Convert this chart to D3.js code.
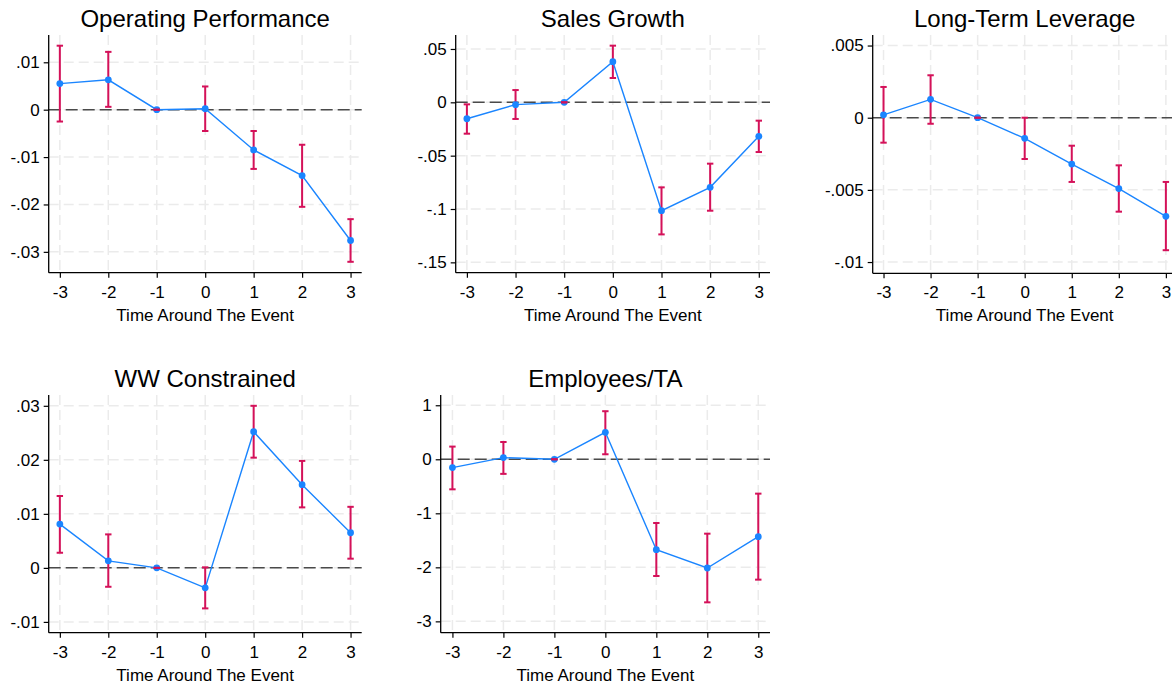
<!DOCTYPE html>
<html>
<head>
<meta charset="utf-8">
<script src="https://cdn.jsdelivr.net/npm/d3@7"></script>
<style>
  body { margin: 0; background: #fff; }
  svg { display: block; font-family: "Liberation Sans", Arial, Helvetica, sans-serif; }
</style>
</head>
<body>
<div id="chart"></div>
<script>
// event time
const times = [-3, -2, -1, 0, 1, 2, 3];
const timeLabels = ['-3', '-2', '-1', '0', '1', '2', '3'];

// Operating Performance
const opEst = [0.0055, 0.0063, 0, 0.0002, -0.0085, -0.0139, -0.0276];
const opLo  = [-0.0025, 0.0006, 0, -0.0045, -0.0125, -0.0205, -0.0321];
const opHi  = [0.0135, 0.0122, 0, 0.0049, -0.0045, -0.0074, -0.0231];

// Sales Growth
const sgEst = [-0.0154, -0.0022, 0, 0.0381, -0.1016, -0.0797, -0.0319];
const sgLo  = [-0.0294, -0.0156, 0, 0.0228, -0.1238, -0.1016, -0.0466];
const sgHi  = [-0.0019, 0.0115, 0, 0.0531, -0.0797, -0.0575, -0.0172];

// Long-Term Leverage
const ltEst = [0.0002, 0.00127, 0, -0.00143, -0.00321, -0.00491, -0.00683];
const ltLo  = [-0.00173, -0.00042, 0, -0.00286, -0.00445, -0.00651, -0.00918];
const ltHi  = [0.00213, 0.00294, 0, 0, -0.00194, -0.0033, -0.00445];

// WW Constrained
const wwEst = [0.0081, 0.0013, 0, -0.0037, 0.0252, 0.0154, 0.0065];
const wwLo  = [0.0028, -0.0035, 0, -0.0075, 0.0204, 0.0112, 0.0017];
const wwHi  = [0.0133, 0.0062, 0, 0.0001, 0.0300, 0.0198, 0.0113];

// Employees/TA
const emEst = [-0.154, 0.031, 0, 0.5, -1.673, -2.012, -1.432];
const emLo  = [-0.556, -0.27, 0, 0.093, -2.16, -2.648, -2.228];
const emHi  = [0.235, 0.32, 0, 0.89, -1.179, -1.377, -0.636];

// y ticks
const opTicks = [0.01, 0, -0.01, -0.02, -0.03];
const opTickLabels = ['.01', '0', '-.01', '-.02', '-.03'];
const sgTicks = [0.05, 0, -0.05, -0.1, -0.15];
const sgTickLabels = ['.05', '0', '-.05', '-.1', '-.15'];
const ltTicks = [0.005, 0, -0.005, -0.01];
const ltTickLabels = ['.005', '0', '-.005', '-.01'];
const wwTicks = [0.03, 0.02, 0.01, 0, -0.01];
const wwTickLabels = ['.03', '.02', '.01', '0', '-.01'];
const emTicks = [1, 0, -1, -2, -3];
const emTickLabels = ['1', '0', '-1', '-2', '-3'];

const titles = ['Operating Performance', 'Sales Growth', 'Long-Term Leverage', 'WW Constrained', 'Employees/TA'];
const xLabel = 'Time Around The Event';

const WIDTH = 1172, HEIGHT = 687;
const BLUE = '#1a85ff', RED = '#d41159';

// panel boxes (plot regions) and y ranges
const panels = [
  {est: opEst, lo: opLo, hi: opHi, ticks: opTicks, labels: opTickLabels, yDom: [-0.0344, 0.01576],
   box: {left: 48.7, right: 361.7, top: 35, bottom: 272.7}},
  {est: sgEst, lo: sgLo, hi: sgHi, ticks: sgTicks, labels: sgTickLabels, yDom: [-0.1597, 0.0631],
   box: {left: 455.7, right: 770, top: 35, bottom: 272.7}},
  {est: ltEst, lo: ltLo, hi: ltHi, ticks: ltTicks, labels: ltTickLabels, yDom: [-0.01078, 0.00573],
   box: {left: 872.7, right: 1176.7, top: 35, bottom: 273.3}},
  {est: wwEst, lo: wwLo, hi: wwHi, ticks: wwTicks, labels: wwTickLabels, yDom: [-0.0120, 0.0320],
   box: {left: 48.7, right: 361.7, top: 395, bottom: 632.7}},
  {est: emEst, lo: emLo, hi: emHi, ticks: emTicks, labels: emTickLabels, yDom: [-3.21, 1.19],
   box: {left: 440.7, right: 770, top: 395, bottom: 632.7}}
];

const svg = d3.select('#chart').append('svg')
  .attr('width', WIDTH)
  .attr('height', HEIGHT);

svg.append('rect').attr('width', WIDTH).attr('height', HEIGHT).attr('fill', '#fff');

panels.forEach((p, k) => {
  const b = p.box;
  const x = d3.scaleLinear().domain([-3.23, 3.23]).range([b.left, b.right]);
  const y = d3.scaleLinear().domain(p.yDom).range([b.bottom, b.top]);
  const g = svg.append('g');

  // grid lines
  g.selectAll('.vgrid').data(times).enter().append('line')
    .attr('x1', d => x(d)).attr('x2', d => x(d))
    .attr('y1', b.top).attr('y2', b.bottom)
    .attr('stroke', '#ebebeb').attr('stroke-width', 1.5)
    .attr('stroke-dasharray', '10,5');
  g.selectAll('.hgrid').data(p.ticks).enter().append('line')
    .attr('x1', b.left).attr('x2', b.right)
    .attr('y1', d => y(d)).attr('y2', d => y(d))
    .attr('stroke', '#ebebeb').attr('stroke-width', 1.5)
    .attr('stroke-dasharray', '10,5');

  // zero reference line
  g.append('line')
    .attr('x1', b.left).attr('x2', b.right)
    .attr('y1', y(0)).attr('y2', y(0))
    .attr('stroke', '#4a4a4a').attr('stroke-width', 1.5)
    .attr('stroke-dasharray', '12,5');

  // axes
  const yAxis = d3.axisLeft(y).tickValues(p.ticks)
    .tickFormat((d, i) => p.labels[i]).tickSize(5).tickPadding(4);
  const gy = g.append('g').attr('transform', `translate(${b.left},0)`).call(yAxis);
  gy.select('.domain').attr('d', `M0,${b.top}V${b.bottom}`);

  const xAxis = d3.axisBottom(x).tickValues(times)
    .tickFormat((d, i) => timeLabels[i]).tickSize(5).tickPadding(8);
  const gx = g.append('g').attr('transform', `translate(0,${b.bottom})`).call(xAxis);
  gx.select('.domain').attr('d', `M${b.left},0H${b.right}`);

  [gx, gy].forEach(a => {
    a.select('.domain').attr('stroke', '#000').attr('stroke-width', 1.3);
    a.selectAll('.tick line').attr('stroke', '#000').attr('stroke-width', 1.2);
    a.selectAll('.tick text').attr('fill', '#000').style('font-size', '17px')
      .style('font-family', '"Liberation Sans", Arial, sans-serif');
  });

  // confidence rods
  g.selectAll('.rod').data(times).enter().append('line')
    .attr('x1', d => x(d)).attr('x2', d => x(d))
    .attr('y1', (d, i) => y(p.lo[i])).attr('y2', (d, i) => y(p.hi[i]))
    .attr('stroke', RED).attr('stroke-width', 2);

  // estimate line
  const line = d3.line().x(d => x(d[0])).y(d => y(d[1]));
  g.append('path')
    .datum(times.map((t, i) => [t, p.est[i]]))
    .attr('d', line)
    .attr('fill', 'none').attr('stroke', BLUE).attr('stroke-width', 1.4);

  // points
  g.selectAll('.pt').data(times).enter().append('circle')
    .attr('cx', d => x(d)).attr('cy', (d, i) => y(p.est[i]))
    .attr('r', 3.4).attr('fill', BLUE);

  // caps
  [p.lo, p.hi].forEach(arr => {
    g.selectAll(null).data(times).enter().append('line')
      .attr('x1', d => x(d) - 3.2).attr('x2', d => x(d) + 3.2)
      .attr('y1', (d, i) => y(arr[i])).attr('y2', (d, i) => y(arr[i]))
      .attr('stroke', RED).attr('stroke-width', 2);
  });

  // title and x label
  g.append('text')
    .attr('x', (b.left + b.right) / 2).attr('y', b.top - 8)
    .attr('text-anchor', 'middle')
    .style('font-size', '24px')
    .text(titles[k]);
  g.append('text')
    .attr('x', (b.left + b.right) / 2).attr('y', b.bottom + 48)
    .attr('text-anchor', 'middle')
    .style('font-size', '17px')
    .text(xLabel);
});
</script>
</body>
</html>
